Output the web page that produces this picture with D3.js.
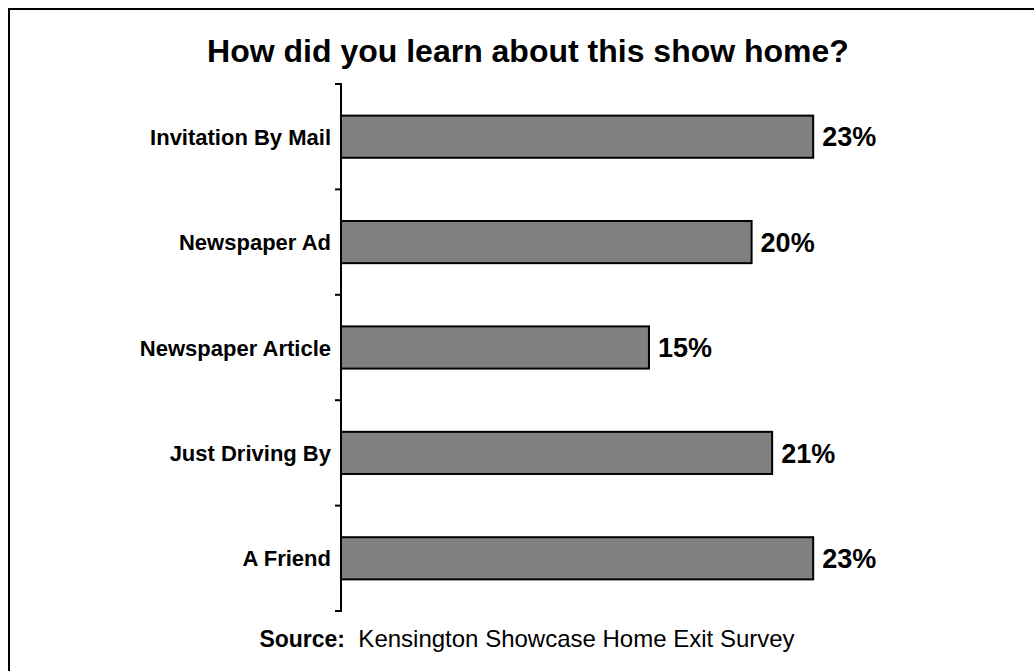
<!DOCTYPE html>
<html>
<head>
<meta charset="utf-8">
<script src="https://cdn.jsdelivr.net/npm/d3@7"></script>
<style>
  html, body { margin: 0; padding: 0; background: #fff; }
  svg { display: block; font-family: "Liberation Sans", Arial, Helvetica, sans-serif; }
</style>
</head>
<body>
<svg id="chart" width="1034" height="671"></svg>
<script>
// Survey answers, top to bottom
const categories = ["Invitation By Mail", "Newspaper Ad", "Newspaper Article", "Just Driving By", "A Friend"];
const percents = [23, 20, 15, 21, 23];
const titleText = "How did you learn about this show home?";
const sourceLabel = "Source:";
const sourceText = "Kensington Showcase Home Exit Survey";

const svg = d3.select("#chart");
const W = 1034, H = 671;

// outer frame (runs past the right and bottom edges)
svg.append("rect")
  .attr("x", 9).attr("y", 9)
  .attr("width", W + 20).attr("height", H + 20)
  .attr("fill", "#fff")
  .attr("stroke", "#000")
  .attr("stroke-width", 2);

const axisX = 341;
const y = d3.scaleBand()
  .domain(categories)
  .range([84, 611])
  .paddingInner(0.6)
  .paddingOuter(0.3);

const x = d3.scaleLinear()
  .domain([0, 25])
  .range([axisX, axisX + 25 * 20.53]);

// title
svg.append("text")
  .attr("x", 528).attr("y", 62)
  .attr("text-anchor", "middle")
  .attr("font-size", 32)
  .attr("font-weight", "bold")
  .text(titleText);

// bars
const data = categories.map((c, i) => ({ c, v: percents[i] }));
svg.append("g").selectAll("rect")
  .data(data)
  .join("rect")
  .attr("x", x(0))
  .attr("y", d => y(d.c))
  .attr("width", d => x(d.v) - x(0))
  .attr("height", y.bandwidth())
  .attr("fill", "#808080")
  .attr("stroke", "#000")
  .attr("stroke-width", 2);

// value labels
svg.append("g").selectAll("text")
  .data(data)
  .join("text")
  .attr("x", d => x(d.v) + 9)
  .attr("y", d => y(d.c) + y.bandwidth() / 2)
  .attr("dy", "0.36em")
  .attr("font-size", 27)
  .attr("font-weight", "bold")
  .text(d => d.v + "%");

// category axis: line plus ticks on band boundaries
const [r0, r1] = y.range();
const boundaries = d3.range(categories.length + 1).map(i => r0 + i * y.step());
const axis = svg.append("g");
axis.append("line")
  .attr("x1", axisX).attr("x2", axisX)
  .attr("y1", r0 - 1).attr("y2", r1 + 1)
  .attr("stroke", "#000").attr("stroke-width", 2);
axis.selectAll("line.tick")
  .data(boundaries)
  .join("line")
  .attr("class", "tick")
  .attr("x1", axisX - 6).attr("x2", axisX)
  .attr("y1", d => d).attr("y2", d => d)
  .attr("stroke", "#000").attr("stroke-width", 2);

// category labels
axis.selectAll("text")
  .data(categories)
  .join("text")
  .attr("x", 331)
  .attr("y", d => y(d) + y.bandwidth() / 2)
  .attr("dy", "0.37em")
  .attr("text-anchor", "end")
  .attr("font-size", 22)
  .attr("font-weight", "bold")
  .text(d => d);

// source line
const src = svg.append("text")
  .attr("x", 527).attr("y", 647)
  .attr("text-anchor", "middle")
  .attr("font-size", 23);
src.append("tspan").attr("font-weight", "bold").text(sourceLabel);
src.append("tspan").attr("font-size", 24).attr("xml:space", "preserve").text("\u00a0 " + sourceText);
</script>
</body>
</html>
